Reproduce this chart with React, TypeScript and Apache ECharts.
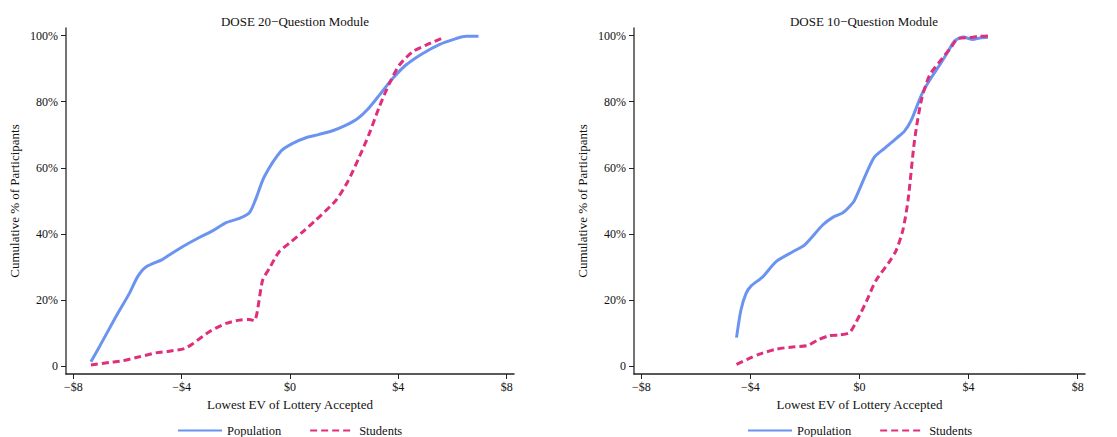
import React, { useEffect, useRef } from "react";
import * as echarts from "echarts";

const xTicks = [-8, -4, 0, 4, 8];
const yTicks = [0, 20, 40, 60, 80, 100];
const seriesNames = ["Population", "Students"];
const panelTitles = ["DOSE 20\u2212Question Module", "DOSE 10\u2212Question Module"];

const pop20: [number, number][] = [
  [-7.35, 1.3], [-7.04, 5.8], [-6.43, 14.9], [-5.93, 22], [-5.63, 27], [-5.32, 30],
  [-4.7, 32.3], [-4.46, 33.6], [-3.97, 36.1], [-3.35, 38.9], [-2.86, 40.9], [-2.36, 43.4],
  [-1.87, 44.7], [-1.5, 46.4], [-1.28, 50.2], [-0.95, 57.3], [-0.33, 65.1], [0.1, 67.4],
  [0.59, 69.1], [1.08, 70.1], [1.57, 71.2], [2.07, 72.9], [2.5, 74.9], [2.87, 77.7],
  [3.3, 82], [3.79, 87], [4.28, 91.1], [4.9, 94.6], [5.51, 97.3], [6.13, 99.1], [6.5, 99.8], [6.96, 99.8],
];
const stu20: [number, number][] = [
  [-7.35, 0.3], [-6.67, 1.1], [-6.18, 1.6], [-5.56, 2.8], [-4.95, 4.0], [-4.46, 4.5],
  [-3.9, 5.3], [-3.6, 6.7], [-2.98, 10.4], [-2.36, 12.9], [-1.87, 13.9], [-1.5, 14.1],
  [-1.32, 13.7], [-1.01, 26], [-0.76, 29.6], [-0.4, 34.6], [0.04, 37.6], [0.47, 40.6],
  [0.96, 44.2], [1.7, 50.2], [2.13, 55.8], [2.56, 63.3], [2.93, 70.4], [3.3, 78.5],
  [3.67, 85.5], [4.04, 91.1], [4.53, 95.1], [5.02, 97.1], [5.58, 99.1],
];
const pop10: [number, number][] = [
  [-4.51, 8.6], [-4.35, 16.9], [-4.16, 22], [-3.98, 24.2], [-3.55, 27], [-3.06, 31.6],
  [-2.45, 34.6], [-2.02, 36.6], [-1.35, 42.7], [-0.98, 45], [-0.61, 46.4], [-0.37, 48.2],
  [-0.18, 50.2], [0.25, 58.3], [0.55, 63.3], [0.92, 65.9], [1.35, 68.9], [1.65, 71.1],
  [1.9, 74.4], [2.27, 82], [2.57, 86.5], [2.94, 91.1], [3.24, 95.1], [3.49, 98.4],
  [3.8, 99.6], [4.16, 98.8], [4.41, 99.3], [4.71, 99.5],
];
const stu10: [number, number][] = [
  [-4.51, 0.5], [-4.04, 2.3], [-3.67, 3.6], [-3.06, 5.1], [-2.45, 5.8], [-1.9, 6.2],
  [-1.53, 7.9], [-1.1, 9.2], [-0.73, 9.4], [-0.37, 10.1], [-0.12, 13.4], [0.25, 19.5],
  [0.61, 26], [1.1, 31.6], [1.35, 35.1], [1.59, 41.1], [1.78, 50.2], [2.02, 68.4],
  [2.27, 80.5], [2.57, 88], [2.94, 92.1], [3.37, 96.6], [3.61, 99.1], [4.04, 99.4],
  [4.41, 99.8], [4.71, 99.9],
];

const FONT = "'Liberation Serif', 'DejaVu Serif', serif";
const BLUE = "#6b94f0";
const PINK = "#de2e7c";

export default function App() {
  const ref = useRef<HTMLDivElement>(null);
  useEffect(() => {
    if (!ref.current) return;
    const chart = echarts.init(ref.current, undefined, { renderer: "svg" });
    const grids = [
      { left: 66, top: 28, width: 448, height: 346 },
      { left: 634, top: 28, width: 451, height: 346 },
    ];
    const xFmt = (v: number) => (v === 0 ? "$0" : v < 0 ? "\u2212$" + -v : "$" + v);
    const yFmt = (v: number) => (v === 0 ? "0" : v + "%");
    const mkX = (i: number) => ({
      type: "value",
      gridIndex: i,
      min: -8.27,
      max: 8.27,
      name: "Lowest EV of Lottery Accepted",
      nameLocation: "middle",
      nameGap: 22,
      nameTextStyle: { fontFamily: FONT, fontSize: 13, color: "#111" },
      axisLine: { show: true, onZero: false, lineStyle: { color: "#222", width: 1.5 } },
      axisTick: { show: true, customValues: xTicks, length: 5, lineStyle: { color: "#222" } },
      axisLabel: { customValues: xTicks, formatter: xFmt, fontFamily: FONT, fontSize: 12, color: "#111", margin: 7 },
      splitLine: { show: false },
    });
    const mkY = (i: number) => ({
      type: "value",
      gridIndex: i,
      min: -2.4,
      max: 102.3,
      name: "Cumulative % of Participants",
      nameLocation: "middle",
      nameGap: 45,
      nameTextStyle: { fontFamily: FONT, fontSize: 13, color: "#111" },
      axisLine: { show: true, onZero: false, lineStyle: { color: "#444", width: 1.5 } },
      axisTick: { show: true, customValues: yTicks, length: 5, lineStyle: { color: "#222" } },
      axisLabel: { customValues: yTicks, formatter: yFmt, fontFamily: FONT, fontSize: 12, color: "#111", margin: 8 },
      splitLine: { show: false },
    });
    const mkLine = (name: string, i: number, data: [number, number][], dashed: boolean) => ({
      type: "line",
      name,
      xAxisIndex: i,
      yAxisIndex: i,
      data,
      smooth: 0.25,
      symbol: "none",
      showSymbol: false,
      lineStyle: {
        color: dashed ? PINK : BLUE,
        width: 3,
        type: dashed ? [7, 4] : "solid",
      },
      itemStyle: { color: dashed ? PINK : BLUE },
    });
    const mkLegend = (left: number) => ({
      data: seriesNames,
      left,
      top: 419,
      itemWidth: 44,
      itemHeight: 14,
      itemGap: 28,
      itemStyle: { opacity: 0 },
      textStyle: { fontFamily: FONT, fontSize: 12.5, color: "#111" },
    });
    chart.setOption({
      animation: false,
      backgroundColor: "#fff",
      title: panelTitles.map((t, i) => ({
        text: t,
        left: i === 0 ? 290 : 859,
        textAlign: "center",
        top: 10,
        textStyle: { fontFamily: FONT, fontSize: 13, fontWeight: "normal", color: "#111" },
      })),
      grid: grids,
      xAxis: [mkX(0), mkX(1)],
      yAxis: [mkY(0), mkY(1)],
      legend: [mkLegend(172), mkLegend(742)],
      series: [
        mkLine(seriesNames[0], 0, pop20, false),
        mkLine(seriesNames[1], 0, stu20, true),
        mkLine(seriesNames[0], 1, pop10, false),
        mkLine(seriesNames[1], 1, stu10, true),
      ],
    });
    return () => chart.dispose();
  }, []);
  return <div ref={ref} style={{ width: 1117, height: 437, position: "absolute", left: 0, top: 0 }} />;
}
